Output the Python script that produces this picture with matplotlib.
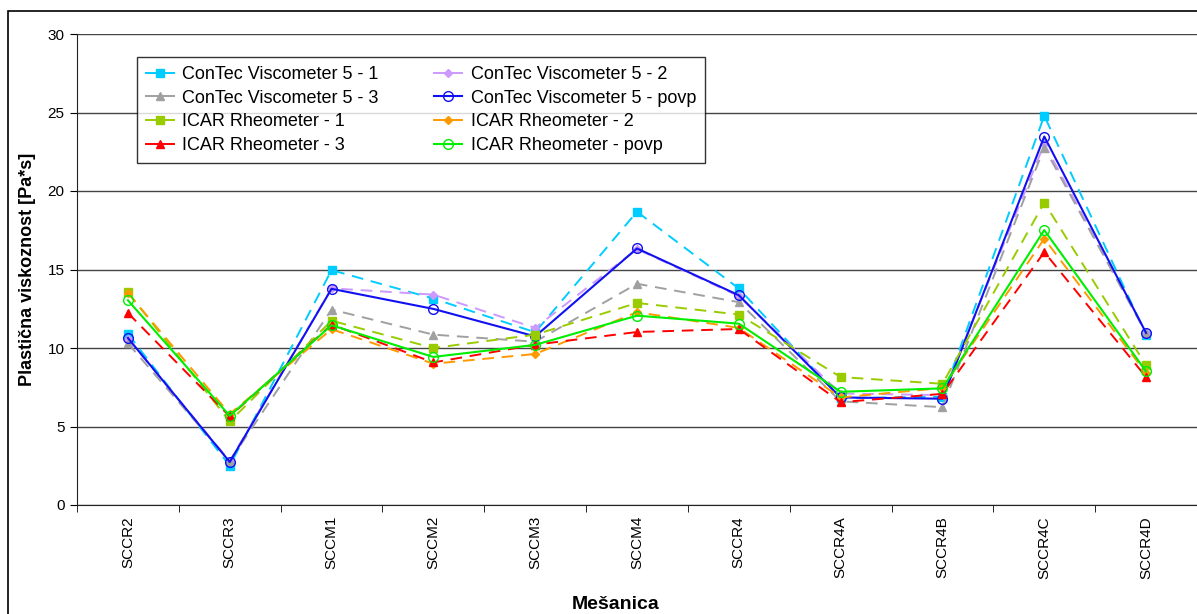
import matplotlib.pyplot as plt
from matplotlib.patches import Rectangle

plt.rcParams['font.family'] = ['Liberation Sans', 'DejaVu Sans']

mixes = ["SCCR2", "SCCR3", "SCCM1", "SCCM2", "SCCM3", "SCCM4", "SCCR4",
         "SCCR4A", "SCCR4B", "SCCR4C", "SCCR4D"]

cv_1 = [10.9, 2.5, 14.96, 13.15, 11.0, 18.68, 13.79, 6.8, 6.9, 24.79, 10.85]
cv_2 = [10.6, 2.8, 13.8, 13.4, 11.28, 16.3, 13.3, 7.1, 7.0, 23.0, 10.95]
cv_3 = [10.3, 2.8, 12.45, 10.85, 10.4, 14.09, 12.92, 6.6, 6.23, 22.77, 10.95]
cv_povp = [10.64, 2.74, 13.77, 12.49, 10.74, 16.34, 13.36, 6.85, 6.77, 23.47, 10.96]
icar_1 = [13.55, 5.32, 11.74, 10.0, 10.85, 12.87, 12.13, 8.15, 7.72, 19.26, 8.89]
icar_2 = [13.5, 5.8, 11.2, 9.0, 9.62, 12.28, 11.28, 6.85, 7.45, 16.96, 8.4]
icar_3 = [12.23, 5.64, 11.49, 9.08, 10.21, 11.02, 11.21, 6.55, 7.08, 16.11, 8.15]
icar_povp = [13.04, 5.68, 11.45, 9.43, 10.2, 12.06, 11.55, 7.21, 7.43, 17.51, 8.51]

fig = plt.figure(figsize=(11.97, 6.14), dpi=100)
ax = fig.add_axes([77 / 1197, 1 - 505 / 614, 1 - 77 / 1197, 471 / 614])

# outer chart frame (left/top visible, rest cropped)
fig.patches.append(Rectangle((8 / 1197, -0.1), 1.2, 1 - 11 / 614 + 0.1,
                             transform=fig.transFigure, fill=False,
                             edgecolor='black', linewidth=1.2))

x = list(range(len(mixes)))

ax.plot(x, cv_1, color='#00CCFF', ls=(0, (6, 4)), lw=1.4, marker='s', ms=5.5, label='ConTec Viscometer 5 - 1')
ax.plot(x, cv_2, color='#CC99FF', ls=(0, (6, 4)), lw=1.4, marker='D', ms=4, label='ConTec Viscometer 5 - 2')
ax.plot(x, cv_3, color='#A0A0A0', ls=(0, (6, 4)), lw=1.4, marker='^', ms=5.5, label='ConTec Viscometer 5 - 3')
ax.plot(x, cv_povp, color='#1010F0', ls='-', lw=1.5, marker='o', ms=7, mfc='none', label='ConTec Viscometer 5 - povp')
ax.plot(x, icar_1, color='#99CC00', ls=(0, (6, 4)), lw=1.4, marker='s', ms=6, label='ICAR Rheometer - 1')
ax.plot(x, icar_2, color='#FF9900', ls=(0, (6, 4)), lw=1.4, marker='D', ms=4, label='ICAR Rheometer - 2')
ax.plot(x, icar_3, color='#FF0000', ls=(0, (6, 4)), lw=1.4, marker='^', ms=6, label='ICAR Rheometer - 3')
ax.plot(x, icar_povp, color='#00EE00', ls='-', lw=1.5, marker='o', ms=7, mfc='none', label='ICAR Rheometer - povp')

ax.set_xlim(-0.5, len(mixes) - 0.5)
ax.set_ylim(0, 30)
ax.set_yticks(range(0, 31, 5))
ax.tick_params(axis='y', labelsize=11, direction='out', length=5, pad=4)
ax.set_xticks(x)
ax.set_xticklabels(mixes, rotation=90, fontsize=11)
ax.tick_params(axis='x', length=0, pad=8)
ax.set_xticks([i - 0.5 for i in range(len(mixes) + 1)], minor=True)
ax.tick_params(axis='x', which='minor', direction='out', length=5)
ax.yaxis.grid(True, color='#444444', lw=1)
ax.set_axisbelow(True)
for s in ['top', 'right']:
    ax.spines[s].set_visible(False)
ax.spines['left'].set_color('#222222')
ax.spines['bottom'].set_color('#222222')

ax.set_ylabel('Plastična viskoznost [Pa*s]', fontsize=13, fontweight='bold')
ax.yaxis.set_label_coords(-0.037, 0.5)
ax.set_xlabel('Mešanica', fontsize=14, fontweight='bold')
ax.xaxis.set_label_coords((616 - 77) / 1120, (505 - 596) / 471)

h, l = ax.get_legend_handles_labels()
order = [0, 2, 4, 6, 1, 3, 5, 7]
leg = ax.legend([h[i] for i in order], [l[i] for i in order], ncol=2, loc='upper left',
                bbox_to_anchor=((137 - 77) / 1120, (505 - 57) / 471), borderaxespad=0,
                fontsize=13, frameon=True, fancybox=False, edgecolor='black',
                handlelength=1.55, handletextpad=0.45, columnspacing=3.1,
                labelspacing=0.37, borderpad=0.5)
leg.get_frame().set_linewidth(1)
for lh in leg.get_lines():
    lh.set_linestyle('-')

fig.savefig('out.png', dpi=100)
